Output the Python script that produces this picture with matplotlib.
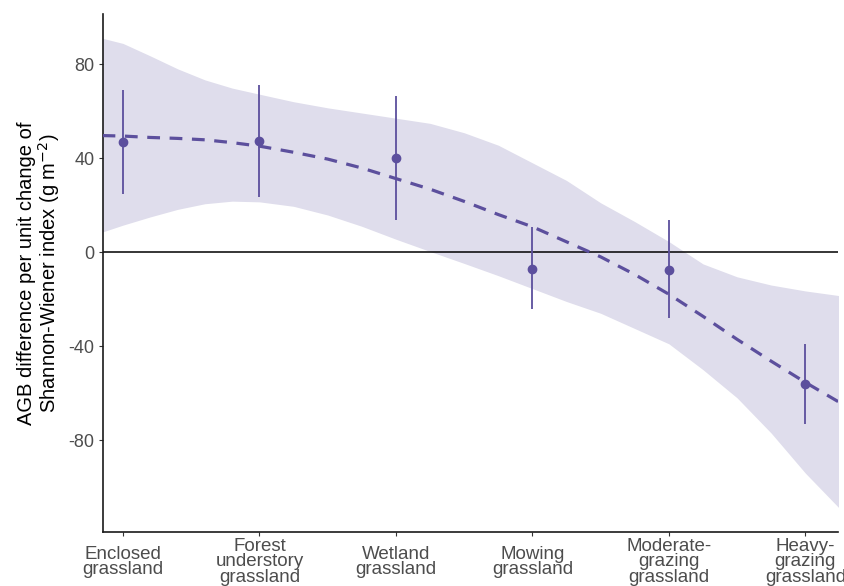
import matplotlib
matplotlib.use('Agg')
import matplotlib.pyplot as plt
import numpy as np

# Land-use categories and group estimates
categories = ['Enclosed\ngrassland', 'Forest\nunderstory\ngrassland', 'Wetland\ngrassland',
              'Mowing\ngrassland', 'Moderate-\ngrazing\ngrassland', 'Heavy-\ngrazing\ngrassland']
estimate = [46.8, 47.2, 40.0, -7.2, -7.4, -55.9]
ci_high = [69.0, 71.0, 66.4, 10.6, 13.6, -38.9]
ci_low = [24.7, 23.4, 13.6, -24.3, -28.2, -73.2]

# Fitted trend and its confidence band along the category axis
fit_x = [0.85, 1.0, 1.2, 1.4, 1.6, 1.8, 2.0, 2.25, 2.5, 2.75, 3.0, 3.25,
         3.5, 3.75, 4.0, 4.25, 4.5, 4.75, 5.0, 5.25, 5.5, 5.75, 6.0, 6.25]
fit_y = [49.6, 49.4, 48.8, 48.4, 47.8, 46.6, 45.1, 42.5, 39.6, 35.8, 31.3, 26.8,
         21.6, 16.0, 10.8, 4.4, -2.0, -9.5, -17.9, -27.3, -37.1, -46.4, -55.4, -63.9]
band_hi = [91.0, 88.8, 83.5, 78.0, 73.3, 69.8, 67.2, 64.0, 61.4, 59.2, 57.0, 54.8,
           50.8, 45.5, 38.0, 30.5, 21.0, 13.0, 4.5, -5.0, -10.5, -14.0, -16.5, -18.5]
band_lo = [8.6, 11.5, 15.0, 18.2, 20.6, 21.7, 21.4, 19.5, 15.8, 11.0, 5.5, 0.3,
           -4.8, -10.0, -15.5, -21.0, -26.0, -32.5, -39.0, -50.0, -62.0, -77.0, -94.0, -109.0]

PURPLE = '#5c4f9d'
BAND = '#dfddec'

plt.rcParams['font.family'] = ['Liberation Sans', 'DejaVu Sans']
plt.rcParams['axes.unicode_minus'] = False

fig = plt.figure(figsize=(8.44, 5.86), dpi=100)
ax = fig.add_axes([0.122, 0.092, 0.871, 0.884])

x = np.arange(1, len(categories) + 1)

ax.fill_between(fit_x, band_lo, band_hi, color=BAND, linewidth=0, zorder=1)
ax.axhline(0, color='black', linewidth=1.1, zorder=2)
ax.plot(fit_x, fit_y, color=PURPLE, linewidth=2.3, dashes=(4, 3), zorder=3)
ax.vlines(x, ci_low, ci_high, color=PURPLE, linewidth=1.3, zorder=4)
ax.plot(x, estimate, 'o', color=PURPLE, markersize=6, zorder=5)

ax.set_xlim(0.853, 6.24)
ax.set_ylim(-119.1, 101.3)
ax.set_yticks([-80, -40, 0, 40, 80])

ax.set_xticks(x)
ax.set_xticklabels(categories, family=['Liberation Sans Narrow', 'Liberation Sans'],
                   fontsize=13.5, color='#4d4d4d', linespacing=0.9)
for lbl in ax.get_xticklabels():
    lbl.set_verticalalignment('center')
    lbl.set_multialignment('center')
ax.tick_params(axis='x', length=3, width=0.8, color='#333333', pad=18.5)
ax.tick_params(axis='y', length=3, width=0.8, color='#333333', labelsize=13,
               labelcolor='#4d4d4d', pad=3)

for side in ['top', 'right']:
    ax.spines[side].set_visible(False)
for side in ['left', 'bottom']:
    ax.spines[side].set_linewidth(1.2)
    ax.spines[side].set_color('#1a1a1a')

ax.set_ylabel('AGB difference per unit change of\nShannon-Wiener index (g m$^{-2}$)',
              fontsize=14.5, color='black', linespacing=1.0, labelpad=5)

fig.savefig('out.png', dpi=100, facecolor='white')
